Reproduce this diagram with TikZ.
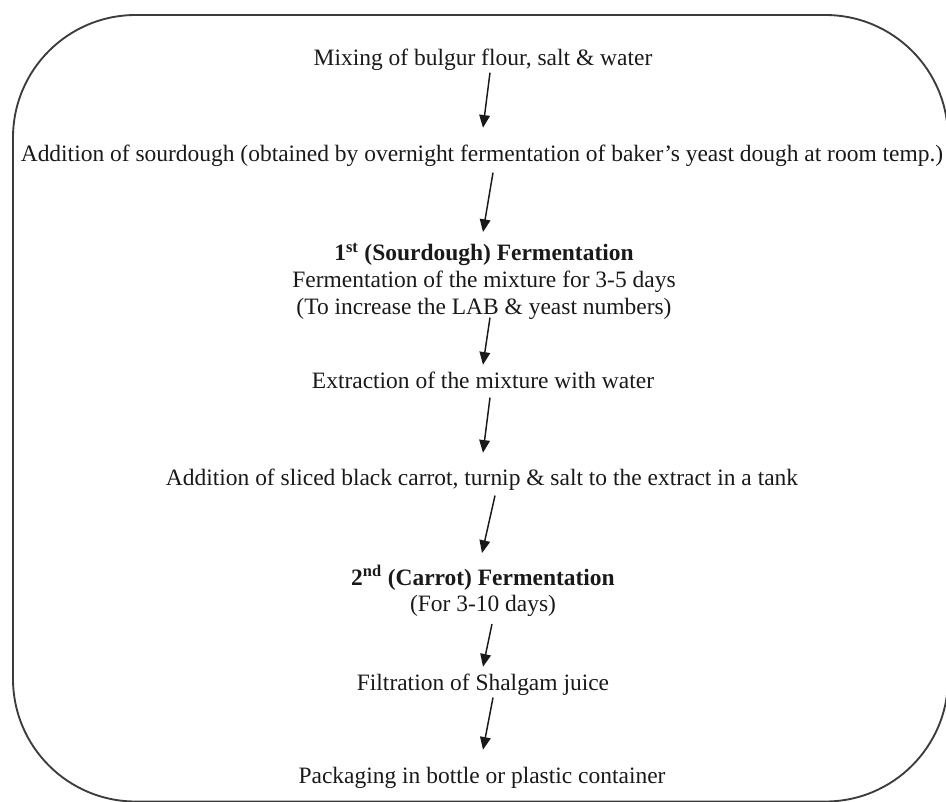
\documentclass[tikz,border=0pt]{standalone}
\usepackage{fontspec}
\setmainfont{Liberation Serif}
\usepackage{tikz}
\usetikzlibrary{arrows.meta, calc}
\definecolor{mydark}{RGB}{25,25,25}
\definecolor{myframe}{RGB}{60,60,60}
\tikzset{
  stage/.style={inner sep=0pt, text height=12pt, text depth=4pt, anchor=base,
    font=\fontsize{17.6}{20}\selectfont, text=mydark},
  stagetwo/.style={inner sep=0pt, align=center, anchor=north,
    font=\fontsize{17.6}{20}\selectfont, text=mydark},
  arrow/.style={-{Triangle[length=9.5pt,width=8pt]}, line width=1.1pt, color=mydark},
  frame/.style={draw=myframe, line width=1.4pt, rounded corners=92pt}
}
\begin{document}
\begin{tikzpicture}[x=0.75pt, y=-0.75pt]

  \useasboundingbox (0,0) rectangle (946,801);
  \draw[frame] (13,15) rectangle (948,801.5);

  \node[stage] (s1) at (483,65) {Mixing of bulgur flour, salt \& water};
  \node[stage] (s2) at (482,161) {Addition of sourdough (obtained by overnight fermentation of baker's yeast dough at room temp.)};
  \node[stagetwo] (s3) at (484,243) {\textbf{1\textsuperscript{st} (Sourdough) Fermentation}\\Fermentation of the mixture for 3-5 days\\(To increase the LAB \& yeast numbers)};
  \node[stage] (s4) at (483,388) {Extraction of the mixture with water};
  \node[stage] (s5) at (482,485) {Addition of sliced black carrot, turnip \& salt to the extract in a tank};
  \node[stagetwo] (s6) at (483,565) {\textbf{2\textsuperscript{nd} (Carrot) Fermentation}\\(For 3-10 days)};
  \node[stage] (s7) at (483,690) {Filtration of Shalgam juice};
  \node[stage] (s8) at (482,783) {Packaging in bottle or plastic container};

  \draw[arrow] ($(s1.south)+(7,2)$) -- ($(s2.north)+(1,-17)$);
  \draw[arrow] ($(s2.south)+(11,6)$) -- ($(s3.north)+(-1,-11)$);
  \draw[arrow] ($(s3.south)+(6,-2)$) -- ($(s4.north)+(0,-7)$);
  \draw[arrow] ($(s4.south)+(7,4)$) -- ($(s5.north)+(1,-16)$);
  \draw[arrow] ($(s5.south)+(13,5)$) -- ($(s6.north)+(-1,-12)$);
  \draw[arrow] ($(s6.south)+(9,7)$) -- ($(s7.north)+(0,-7)$);
  \draw[arrow] ($(s7.south)+(10,2)$) -- ($(s8.north)+(1,-17)$);

\end{tikzpicture}
\end{document}
